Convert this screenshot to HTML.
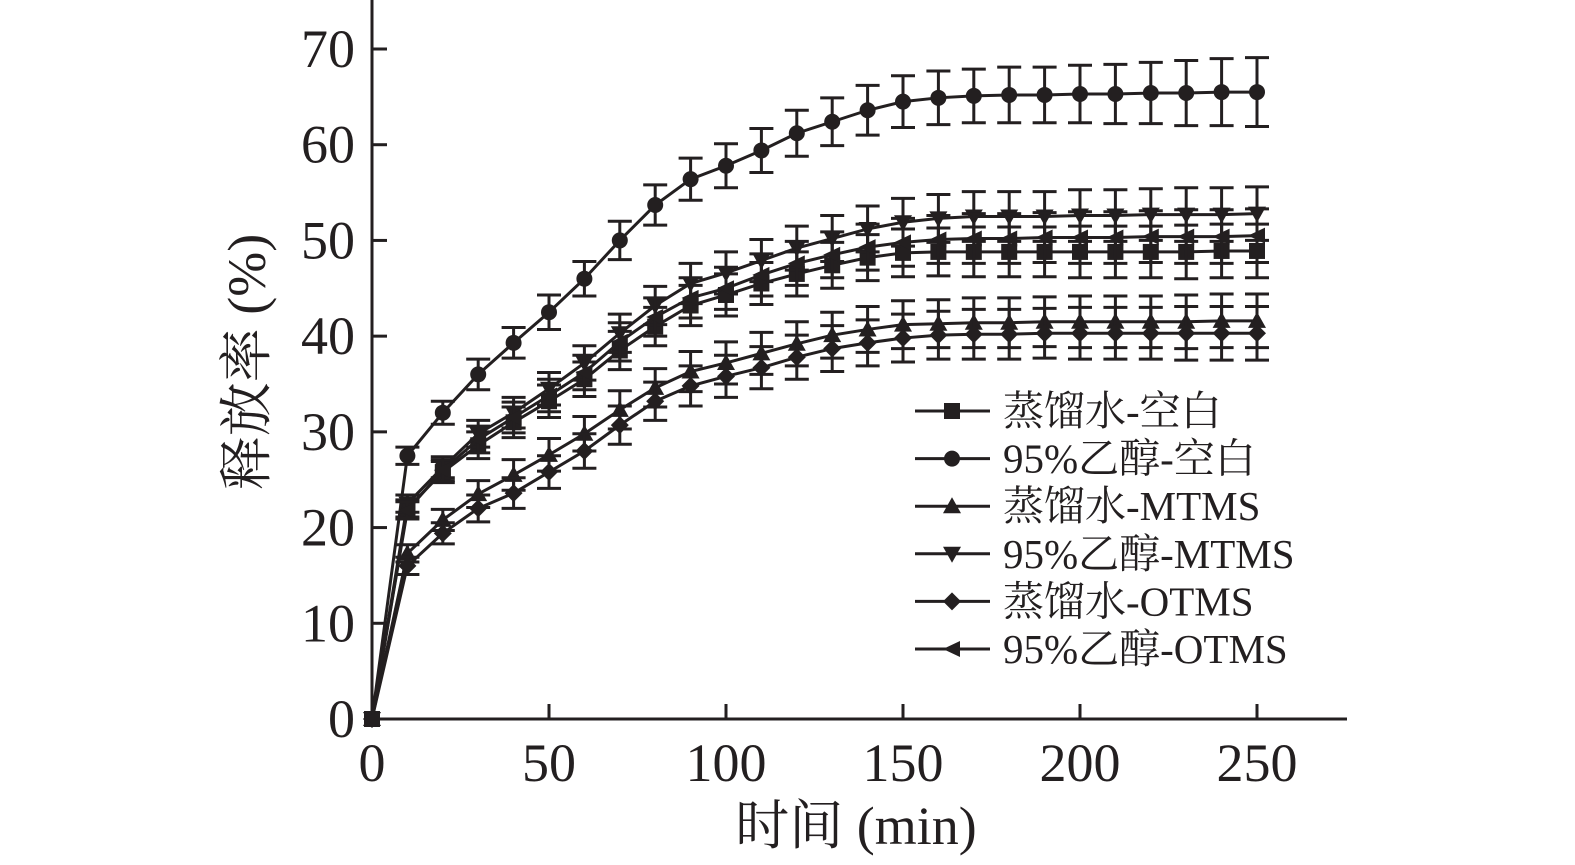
<!DOCTYPE html>
<html><head><meta charset="utf-8"><style>
html,body{margin:0;padding:0;background:#fff;overflow:hidden;width:1575px;height:865px;}
svg{display:block;}
text{font-family:"Liberation Serif","Noto Serif CJK SC",serif;fill:#231f20;}
</style></head><body>
<svg id="chart" width="1575" height="865" viewBox="0 0 1575 865" xmlns="http://www.w3.org/2000/svg"></svg>
<script>
const times=[0,10,20,30,40,50,60,70,80,90,100,110,120,130,140,150,160,170,180,190,200,210,220,230,240,250];
const waterBlank=[0,22,25.8,28.6,31,33.2,35.5,38.5,41,43.2,44.3,45.5,46.5,47.4,48.2,48.7,48.8,48.8,48.8,48.8,48.8,48.8,48.8,48.8,48.9,48.9];
const ethBlank=[0,27.5,32,36,39.3,42.5,46,50,53.7,56.4,57.8,59.4,61.2,62.4,63.6,64.5,64.9,65.1,65.2,65.2,65.3,65.3,65.4,65.4,65.5,65.5];
const waterMTMS=[0,17.3,20.8,23.5,25.5,27.6,29.8,32.3,34.6,36.3,37.2,38.2,39.2,40.1,40.7,41.2,41.3,41.4,41.4,41.5,41.5,41.5,41.5,41.5,41.6,41.6];
const ethMTMS=[0,22.5,26.3,29.8,32,34.5,37.2,40.3,43.2,45.5,46.6,47.9,49.2,50.2,51.2,51.9,52.3,52.5,52.5,52.5,52.6,52.6,52.7,52.7,52.7,52.8];
const waterOTMS=[0,16,19.4,22,23.6,25.8,28,30.7,33.2,34.8,35.8,36.7,37.8,38.7,39.3,39.8,40.1,40.2,40.2,40.3,40.3,40.3,40.3,40.3,40.3,40.3];
const ethOTMS=[0,21.8,26,29.2,31.5,33.8,36.2,39.4,42,44,45,46.4,47.6,48.5,49.3,49.8,50.1,50.2,50.2,50.3,50.3,50.3,50.4,50.4,50.4,50.5];
const errBlank=[0,0.9,1.1,1.4,1.6,1.7,1.8,2,2,2.1,2.2,2.2,2.3,2.4,2.4,2.5,2.5,2.6,2.6,2.6,2.7,2.7,2.7,2.8,2.8,2.8];
const errEthBlank=[0,0.9,1.2,1.6,1.6,1.8,1.8,2,2.1,2.2,2.3,2.3,2.4,2.5,2.6,2.7,2.8,2.8,2.9,2.9,3,3.1,3.2,3.4,3.5,3.6];
const seriesNames=["蒸馏水-空白","95%乙醇-空白","蒸馏水-MTMS","95%乙醇-MTMS","蒸馏水-OTMS","95%乙醇-OTMS"];
const xTicks=[0,50,100,150,200,250];
const yTicks=[0,10,20,30,40,50,60,70];

const NS="http://www.w3.org/2000/svg";
const svg=document.getElementById('chart');
const X0=372,XS=(1257-372)/250,Y0=719,YS=(719-49)/70;
const xs=v=>X0+v*XS, ys=v=>Y0-v*YS;
const C="#231f20";
function mk(tag,attrs,parent){const e=document.createElementNS(NS,tag);for(const k in attrs)e.setAttribute(k,attrs[k]);(parent||svg).appendChild(e);return e;}

const ax=mk('g',{});


mk('line',{x1:X0,y1:0,x2:X0,y2:Y0+1.5,stroke:C,'stroke-width':3},ax);
mk('line',{x1:X0-1.5,y1:Y0,x2:1347,y2:Y0,stroke:C,'stroke-width':3},ax);
yTicks.forEach(v=>{
  mk('line',{x1:X0,y1:ys(v),x2:X0+15,y2:ys(v),stroke:C,'stroke-width':3},ax);
  const t=mk('text',{x:X0-17,y:ys(v)+18,'font-size':54,'text-anchor':'end'},ax);
  t.textContent=v;
  
  
});
xTicks.forEach(v=>{
  mk('line',{x1:xs(v),y1:Y0,x2:xs(v),y2:Y0-15,stroke:C,'stroke-width':3},ax);
  const t=mk('text',{x:xs(v),y:Y0+62,'font-size':54,'text-anchor':'middle'},ax);
  t.textContent=v;
  
  
});
const yl=mk('text',{x:0,y:0,'font-size':54,'text-anchor':'middle',transform:'translate(265,362) rotate(-90)'});
yl.textContent='释放率 (%)';


const xl=mk('text',{x:856,y:844,'font-size':54,'text-anchor':'middle'});
xl.textContent='时间 (min)';



function marker(type,x,y,g){
  const s=8;
  if(type==='square')mk('rect',{x:x-s,y:y-s,width:2*s,height:2*s,fill:C},g);
  else if(type==='circle')mk('circle',{cx:x,cy:y,r:s,fill:C},g);
  else if(type==='up')mk('polygon',{points:`${x},${y-s-1} ${x+s+1},${y+s-1} ${x-s-1},${y+s-1}`,fill:C},g);
  else if(type==='down')mk('polygon',{points:`${x},${y+s+1} ${x+s+1},${y-s+1} ${x-s-1},${y-s+1}`,fill:C},g);
  else if(type==='diamond')mk('polygon',{points:`${x},${y-s-1} ${x+s+1},${y} ${x},${y+s+1} ${x-s-1},${y}`,fill:C},g);
  else if(type==='left')mk('polygon',{points:`${x-s-1},${y} ${x+s},${y-s} ${x+s},${y+s}`,fill:C},g);
}
const series=[
 {name:'water-blank',vals:waterBlank,err:errBlank,m:'square'},
 {name:'ethanol-blank',vals:ethBlank,err:errEthBlank,m:'circle'},
 {name:'water-mtms',vals:waterMTMS,err:errBlank,m:'up'},
 {name:'ethanol-mtms',vals:ethMTMS,err:errBlank,m:'down'},
 {name:'water-otms',vals:waterOTMS,err:errBlank,m:'diamond'},
 {name:'ethanol-otms',vals:ethOTMS,err:errBlank,m:'left'}
];
series.forEach(s=>{
  const g=mk('g',{});
  
  
  mk('polyline',{points:times.map((t,i)=>xs(t)+','+ys(s.vals[i])).join(' '),fill:'none',stroke:C,'stroke-width':3},g);
  times.forEach((t,i)=>{
    const e=s.err[i]; if(e>0){
      const x=xs(t),y1=ys(s.vals[i]+e),y2=ys(s.vals[i]-e);
      mk('path',{d:`M${x},${y1}V${y2}M${x-12},${y1}H${x+12}M${x-12},${y2}H${x+12}`,stroke:C,'stroke-width':3,fill:'none'},g);
    }
    marker(s.m,xs(t),ys(s.vals[i]),g);
  });
});
const lg=mk('g',{});


series.forEach((s,i)=>{
  const y=411+i*47.6;
  const e=mk('g',{},lg);
  
  
  mk('line',{x1:915,y1:y,x2:990,y2:y,stroke:C,'stroke-width':3},e);
  marker(s.m,952,y,e);
  const t=mk('text',{x:1003,y:y+14,'font-size':41},e);
  t.textContent=seriesNames[i];
});
</script>
</body></html>
